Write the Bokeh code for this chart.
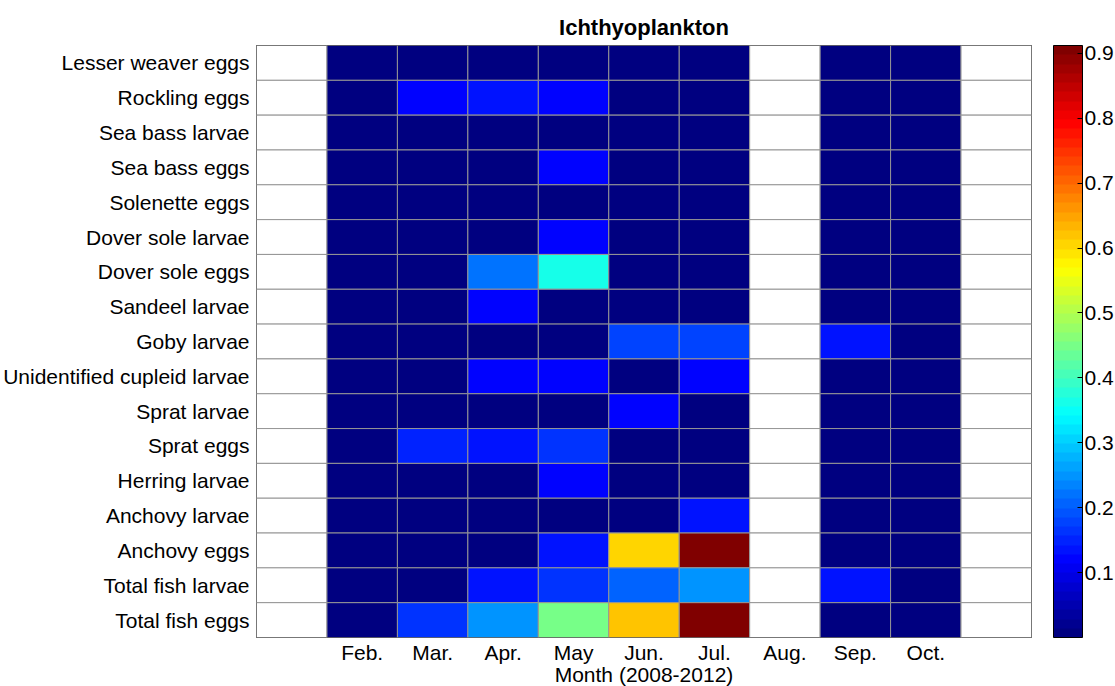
import numpy as np
from bokeh.plotting import figure
from bokeh.models import ColumnDataSource, LinearColorMapper, ColorBar, FixedTicker, FactorRange, Range1d
from bokeh.transform import transform
from bokeh.embed import file_html
from bokeh.resources import INLINE

N = np.nan
months = ["Jan.", "Feb.", "Mar.", "Apr.", "May", "Jun.", "Jul.", "Aug.", "Sep.", "Oct.", "Nov."]
shown_months = ["Feb.", "Mar.", "Apr.", "May", "Jun.", "Jul.", "Aug.", "Sep.", "Oct."]

species = [
    "Lesser weaver eggs", "Rockling eggs", "Sea bass larvae", "Sea bass eggs",
    "Solenette eggs", "Dover sole larvae", "Dover sole eggs", "Sandeel larvae",
    "Goby larvae", "Unidentified cupleid larvae", "Sprat larvae", "Sprat eggs",
    "Herring larvae", "Anchovy larvae", "Anchovy eggs", "Total fish larvae",
    "Total fish eggs",
]

#                        Jan Feb  Mar   Apr    May    Jun   Jul    Aug Sep   Oct Nov
lesser_weaver_eggs    = [N, 0.0, 0.0,  0.0,   0.0,   0.0,  0.0,   N, 0.0,  0.0, N]
rockling_eggs         = [N, 0.0, 0.12, 0.13,  0.12,  0.0,  0.0,   N, 0.0,  0.0, N]
sea_bass_larvae       = [N, 0.0, 0.0,  0.0,   0.0,   0.0,  0.0,   N, 0.0,  0.0, N]
sea_bass_eggs         = [N, 0.0, 0.0,  0.0,   0.12,  0.0,  0.0,   N, 0.0,  0.0, N]
solenette_eggs        = [N, 0.0, 0.0,  0.0,   0.0,   0.0,  0.0,   N, 0.0,  0.0, N]
dover_sole_larvae     = [N, 0.0, 0.0,  0.0,   0.12,  0.0,  0.0,   N, 0.0,  0.0, N]
dover_sole_eggs       = [N, 0.0, 0.0,  0.215, 0.368, 0.0,  0.0,   N, 0.0,  0.0, N]
sandeel_larvae        = [N, 0.0, 0.0,  0.115, 0.0,   0.0,  0.0,   N, 0.0,  0.0, N]
goby_larvae           = [N, 0.0, 0.0,  0.0,   0.0,   0.18, 0.185, N, 0.13, 0.0, N]
unidentified_cupleid  = [N, 0.0, 0.0,  0.12,  0.12,  0.0,  0.12,  N, 0.0,  0.0, N]
sprat_larvae          = [N, 0.0, 0.0,  0.0,   0.0,   0.12, 0.0,   N, 0.0,  0.0, N]
sprat_eggs            = [N, 0.0, 0.15, 0.14,  0.16,  0.0,  0.0,   N, 0.0,  0.0, N]
herring_larvae        = [N, 0.0, 0.0,  0.0,   0.12,  0.0,  0.0,   N, 0.0,  0.0, N]
anchovy_larvae        = [N, 0.0, 0.0,  0.0,   0.0,   0.0,  0.14,  N, 0.0,  0.0, N]
anchovy_eggs          = [N, 0.0, 0.0,  0.0,   0.14,  0.60, 0.91,  N, 0.0,  0.0, N]
total_fish_larvae     = [N, 0.0, 0.0,  0.14,  0.17,  0.21, 0.248, N, 0.14, 0.0, N]
total_fish_eggs       = [N, 0.0, 0.16, 0.248, 0.455, 0.618, 0.91, N, 0.0,  0.0, N]

rows = [lesser_weaver_eggs, rockling_eggs, sea_bass_larvae, sea_bass_eggs,
        solenette_eggs, dover_sole_larvae, dover_sole_eggs, sandeel_larvae,
        goby_larvae, unidentified_cupleid, sprat_larvae, sprat_eggs,
        herring_larvae, anchovy_larvae, anchovy_eggs, total_fish_larvae,
        total_fish_eggs]

xs, ys, vs = [], [], []
for name, row in zip(species, rows):
    for i, v in enumerate(row):
        xs.append(i + 1)
        ys.append(name)
        vs.append(v)
src = ColumnDataSource(dict(x=xs, y=ys, v=vs))

# MATLAB jet colormap, 64 levels
def jet(n=64):
    t = np.linspace(0, 1, n)
    r = np.clip(np.minimum(4 * t - 1.5, -4 * t + 4.5), 0, 1)
    g = np.clip(np.minimum(4 * t - 0.5, -4 * t + 3.5), 0, 1)
    b = np.clip(np.minimum(4 * t + 0.5, -4 * t + 2.5), 0, 1)
    return ["#%02x%02x%02x" % (int(round(a * 255)), int(round(bb * 255)), int(round(c * 255)))
            for a, bb, c in zip(r, g, b)]

mapper = LinearColorMapper(palette=jet(64), low=0.0, high=0.912, nan_color="white")

FONT = "Liberation Sans"
FW, FH = 775, 592
p = figure(
    frame_width=FW, frame_height=FH,
    x_range=Range1d(0.5, 11.5),
    y_range=FactorRange(factors=species[::-1]),
    output_backend="svg", toolbar_location=None,
    title="Ichthyoplankton",
    min_border_left=255, min_border_top=45, min_border_right=83, min_border_bottom=5,
)
p.title.align = "center"
p.title.text_font = FONT
p.title.text_font_size = "22px"
p.title.text_font_style = "bold"
p.title.text_color = "black"
p.title.standoff = 12

p.rect(x="x", y="y", width=1, height=1, source=src,
       fill_color=transform("v", mapper), line_color="#959595", line_width=1)

p.grid.visible = False
p.outline_line_color = "#222222"
p.outline_line_width = 1
p.background_fill_color = "white"

p.xaxis.ticker = FixedTicker(ticks=[months.index(m) + 1 for m in shown_months])
p.xaxis.major_label_overrides = {months.index(m) + 1: m for m in shown_months}
p.xaxis.axis_label = "Month (2008-2012)"
p.xaxis.axis_label_text_font = FONT
p.xaxis.axis_label_text_font_size = "21px"
p.xaxis.axis_label_text_font_style = "normal"
p.xaxis.axis_label_text_color = "black"
p.xaxis.axis_label_standoff = -4
for ax in (p.xaxis, p.yaxis):
    ax.axis_line_color = None
    ax.major_tick_line_color = None
    ax.minor_tick_line_color = None
    ax.major_tick_out = 0
    ax.major_tick_in = 0
    ax.major_label_text_font = FONT
    ax.major_label_text_color = "black"
    ax.major_label_text_font_size = "21px"
p.xaxis.major_label_standoff = 3
p.yaxis.major_label_standoff = 7

cb = ColorBar(
    color_mapper=mapper, width=29, height=FH,
    location=(FW + 22, 0),
    ticker=FixedTicker(ticks=[0.1, 0.2, 0.3, 0.4, 0.5, 0.6, 0.7, 0.8, 0.9]),
    major_label_text_font=FONT, major_label_text_font_size="21px",
    major_label_text_color="black",
    major_tick_line_color="black", major_tick_in=5, major_tick_out=0,
    bar_line_color="black", border_line_color=None, background_fill_color=None,
    padding=0, margin=0, label_standoff=2,
)
p.add_layout(cb, "center")

open("out.html", "w").write(file_html(p, INLINE))
